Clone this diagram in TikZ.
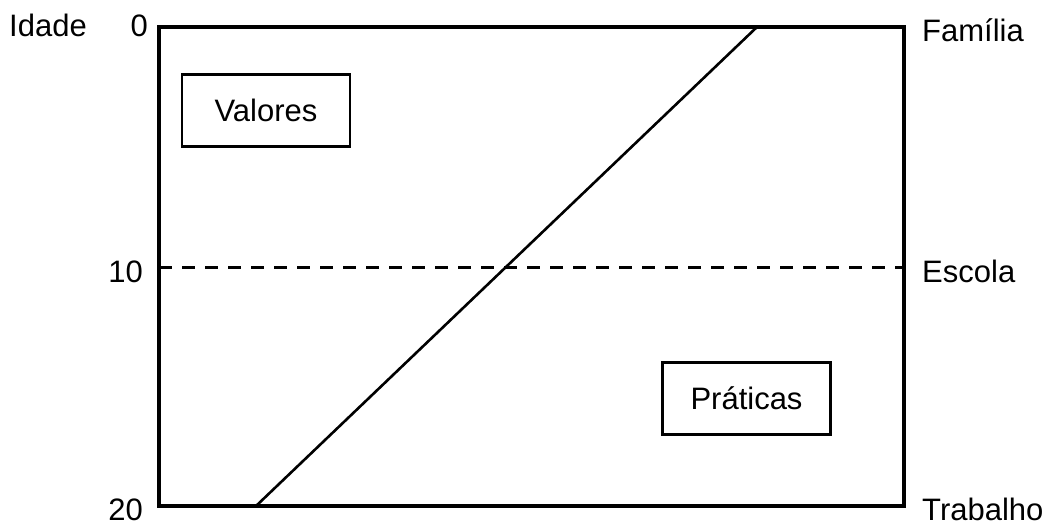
\documentclass[tikz,border=0pt]{standalone}
\usepackage{fontspec}
\setmainfont{Liberation Sans}
\begin{document}
\begin{tikzpicture}[x=1pt,y=-1pt,
  lbl/.style={font=\fontsize{31}{37}\selectfont, inner sep=0pt},
  boxed/.style={draw, line width=2.2pt, minimum width=168pt, minimum height=72pt, font=\fontsize{31}{37}\selectfont},
  frame/.style={line width=3.2pt},
  dashline/.style={line width=3pt, dash pattern=on 13pt off 10pt}]
\useasboundingbox (0,0) rectangle (1053,524);
\coordinate (tl) at (159,27);
\coordinate (tr) at (904,27);
\coordinate (bl) at (159,506);
\coordinate (br) at (904,506);
\coordinate (ml) at (159,267);
\coordinate (mr) at (904,267);
\coordinate (dtop) at (757,27);
\coordinate (dbot) at (256,506);
\draw[frame] (tl) -- (tr) -- (br) -- (bl) -- cycle;
\draw[dashline] (ml) -- (mr);
\draw[line width=2.6pt] (dbot) -- (dtop);
\node[boxed] (valores) at (266,110.5) {Valores};
\node[boxed] (praticas) at (746.5,398.5) {Práticas};
\node[lbl, anchor=base west] (idade) at (9,37) {Idade};
\node[lbl, anchor=base east] (a0) at (148,37) {0};
\node[lbl, anchor=base east] (a10) at (143,282) {10};
\node[lbl, anchor=base east] (a20) at (143,520) {20};
\node[lbl, anchor=base west] (familia) at (922,42) {Família};
\node[lbl, anchor=base west] (escola) at (922,282) {Escola};
\node[lbl, anchor=base west] (trabalho) at (922,520) {Trabalho};
\end{tikzpicture}
\end{document}
